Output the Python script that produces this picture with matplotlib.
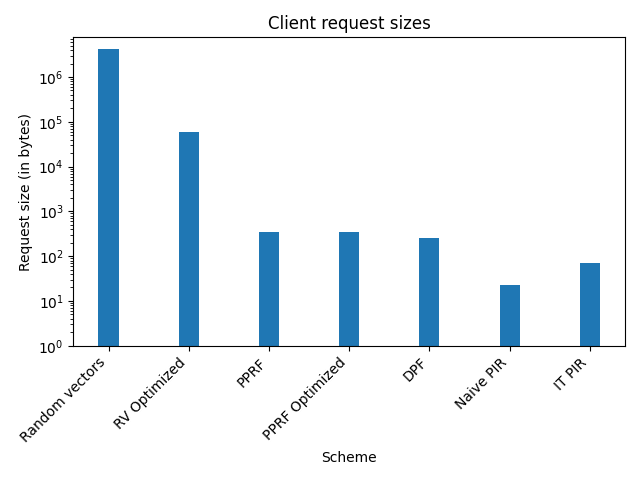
import matplotlib
matplotlib.use("Agg")
import matplotlib.pyplot as plt
import numpy as np

schemes = ["Random vectors", "RV Optimized", "PPRF", "PPRF Optimized", "DPF", "Naive PIR", "IT PIR"]
sizes = [4194304, 60000, 350, 350, 256, 23, 70]

fig, ax = plt.subplots(figsize=(6.4, 4.8), dpi=100)
x = np.arange(len(schemes))
ax.bar(x, sizes, width=0.25, color="#1f77b4")
ax.set_yscale("log")
ax.set_ylim(bottom=1)
ax.set_xticks(x)
ax.set_xticklabels(schemes, rotation=45, ha="right")
ax.set_xlabel("Scheme")
ax.set_ylabel("Request size (in bytes)")
ax.set_title("Client request sizes")
fig.tight_layout()
fig.savefig("out.png")
